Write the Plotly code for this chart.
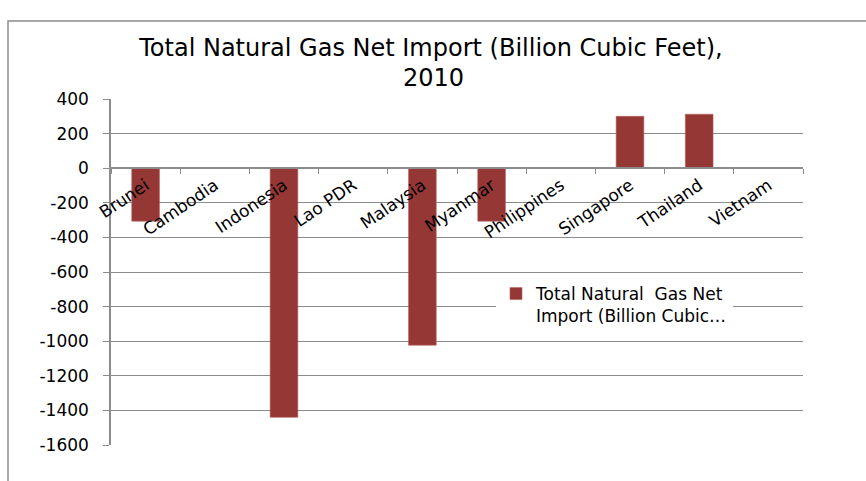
import plotly.graph_objects as go

# ASEAN natural gas net import, 2010 (billion cubic feet)
countries = ["Brunei", "Cambodia", "Indonesia", "Lao PDR", "Malaysia",
             "Myanmar", "Philippines", "Singapore", "Thailand", "Vietnam"]
net_import = [-306, 0, -1440, 0, -1023, -306, 0, 300, 312, 0]
y_ticks = list(range(-1600, 401, 200))

title_line1 = "Total Natural Gas Net Import (Billion Cubic Feet),"
title_line2 = "2010"
series_name = "Total Natural  Gas Net<br>Import (Billion Cubic\u2026"

bar_color = "#953735"
grid_color = "#8c8c8c"
font_family = "DejaVu Sans, sans-serif"

W, H = 866, 481
L, R, T, B = 111, 63, 99, 36
plot_w = W - L - R
plot_h = H - T - B

fig = go.Figure(go.Bar(
    x=countries,
    y=net_import,
    name=series_name,
    marker=dict(color=bar_color, line=dict(color="#b5605d", width=0.6)),
    showlegend=True,
))

fig.update_layout(
    width=W, height=H,
    margin=dict(l=L, r=R, t=T, b=B),
    paper_bgcolor="white",
    plot_bgcolor="white",
    bargap=0.6,
    font=dict(family=font_family, color="black"),
    title=dict(
        text=title_line1,
        x=431 / W, xref="container", xanchor="center",
        y=1 - 48 / H, yref="container", yanchor="middle",
        font=dict(size=24, family=font_family, color="black"),
    ),
    legend=dict(
        x=(496 - L) / plot_w, y=(H - B - 276) / plot_h,
        xanchor="left", yanchor="top",
        valign="top",
        bgcolor="white",
        font=dict(size=17, family=font_family, color="black"),
        itemwidth=30,
    ),
    showlegend=True,
)

# second title line, placed on its own
fig.add_annotation(
    text=title_line2,
    xref="paper", yref="paper",
    x=(433 - L) / plot_w, y=(H - B - 78) / plot_h,
    xanchor="center", yanchor="middle",
    showarrow=False,
    font=dict(size=24, family=font_family, color="black"),
)

fig.update_yaxes(
    range=[-1600, 400],
    tickvals=y_ticks,
    ticktext=[str(v) for v in y_ticks],
    showgrid=True, gridcolor=grid_color, gridwidth=1,
    zeroline=True, zerolinecolor=grid_color, zerolinewidth=1.5,
    showline=True, linecolor=grid_color, linewidth=1.5,
    ticks="outside", ticklen=6, tickcolor=grid_color,
    ticklabelstandoff=11,
    tickfont=dict(size=17, family=font_family, color="black"),
)

fig.update_xaxes(
    type="category",
    anchor="free",
    position=(0 - (-1600)) / (400 - (-1600)),
    showgrid=False,
    showline=True, linecolor=grid_color, linewidth=1.5,
    ticks="outside", tickson="boundaries", ticklen=5, tickcolor=grid_color,
    tickangle=-34,
    tickfont=dict(size=17, family=font_family, color="black"),
)

# chart-area frame
fig.add_shape(
    type="rect", xref="paper", yref="paper",
    x0=(8 - L) / plot_w, x1=(W + 20 - L) / plot_w,
    y0=-(B + 20) / plot_h, y1=(H - B - 21) / plot_h,
    line=dict(color="#8c8c8c", width=1.5),
    fillcolor="rgba(0,0,0,0)",
    layer="below",
)

fig.write_html("out.html")
